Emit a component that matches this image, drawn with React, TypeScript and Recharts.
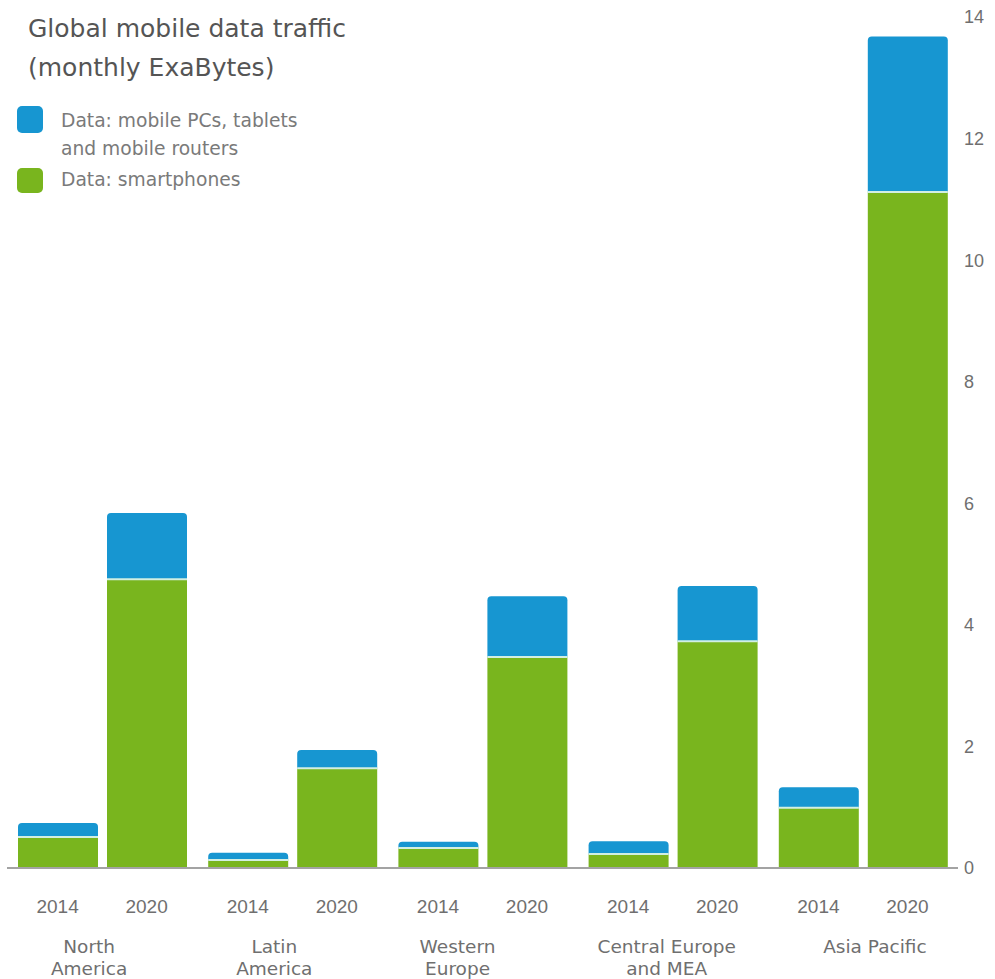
import React from "react";
import { BarChart, Bar, XAxis, YAxis } from "recharts";

// categories and values (monthly ExaBytes)
const regions = ["North\nAmerica", "Latin\nAmerica", "Western\nEurope", "Central Europe\nand MEA", "Asia Pacific"];
const years = ["2014", "2020"];
const smartphones2014 = [0.51, 0.13, 0.33, 0.23, 0.99];
const otherDevices2014 = [0.23, 0.12, 0.1, 0.21, 0.34];
const smartphones2020 = [4.75, 1.64, 3.47, 3.73, 11.12];
const otherDevices2020 = [1.09, 0.3, 1.0, 0.91, 2.56];
const yTicks = [0, 2, 4, 6, 8, 10, 12, 14];

const data = regions.map((region, i) => ({
  region,
  s14: smartphones2014[i],
  o14: otherDevices2014[i],
  s20: smartphones2020[i],
  o20: otherDevices2020[i],
}));

const GREEN = "#79b51e";
const BLUE = "#1796d1";
const TEXT = "#6f6f6f";
const BAR_SIZE = 80;
const BAR_GAP = 9;
// the region labels are not quite centred under their groups in the original
const labelNudge = [-13, -18, -25, -6, 12];

// upper segment: rounded top plus the thin light line that separates it from the green
const TopSegment = (props: any) => {
  const { x, y, width, height, fill } = props;
  if (!height || height <= 0) return null;
  const r = Math.min(4, height);
  const d = `M${x},${y + height} L${x},${y + r} Q${x},${y} ${x + r},${y} L${x + width - r},${y} Q${x + width},${y} ${x + width},${y + r} L${x + width},${y + height} Z`;
  return (
    <g>
      <path d={d} fill={fill} />
      <line x1={x} x2={x + width} y1={y + height} y2={y + height} stroke="#d2efe2" strokeWidth={2} />
    </g>
  );
};

const RegionTick = (props: any) => {
  const { x, y, payload, index } = props;
  const half = (BAR_SIZE + BAR_GAP) / 2;
  const lines = String(payload.value).split("\n");
  return (
    <g>
      {years.map((yr, k) => (
        <text
          key={yr}
          x={x + (k === 0 ? -half : half)}
          y={y + 45}
          textAnchor="middle"
          fill={TEXT}
          fontSize={19}
          fontFamily="'Liberation Sans', Arial, sans-serif"
        >
          {yr}
        </text>
      ))}
      {lines.map((ln, k) => (
        <text
          key={ln}
          x={x + labelNudge[index]}
          y={y + 85 + k * 22}
          textAnchor="middle"
          fill={TEXT}
          fontSize={18.5}
          fontFamily="'DejaVu Sans', sans-serif"
        >
          {ln}
        </text>
      ))}
    </g>
  );
};

const App: React.FC = () => {
  return (
    <div style={{ position: "absolute", left: 0, top: 0, width: 995, height: 979, background: "#fff" }}>
      <BarChart
        width={995}
        height={979}
        data={data}
        margin={{ top: 17, right: 0, left: 7, bottom: 0 }}
        barSize={BAR_SIZE}
        barGap={BAR_GAP}
      >
        <XAxis
          dataKey="region"
          interval={0}
          height={111}
          tickSize={0}
          tickMargin={0}
          tickLine={false}
          axisLine={{ stroke: "#a3a3a3", strokeWidth: 2 }}
          tick={<RegionTick />}
        />
        <YAxis
          orientation="right"
          width={37}
          domain={[0, 14]}
          ticks={yTicks}
          interval={0}
          tickSize={0}
          tickMargin={6}
          axisLine={false}
          tickLine={false}
          tick={{ fill: TEXT, fontSize: 18, fontFamily: "'Liberation Sans', Arial, sans-serif" }}
        />
        <Bar dataKey="s14" stackId="y2014" fill={GREEN} isAnimationActive={false} />
        <Bar dataKey="o14" stackId="y2014" fill={BLUE} shape={<TopSegment />} isAnimationActive={false} />
        <Bar dataKey="s20" stackId="y2020" fill={GREEN} isAnimationActive={false} />
        <Bar dataKey="o20" stackId="y2020" fill={BLUE} shape={<TopSegment />} isAnimationActive={false} />
      </BarChart>

      {/* title and legend */}
      <svg width={360} height={210} style={{ position: "absolute", left: 0, top: 0 }}>
        <text x={28} y={37} fontSize={25} fill="#555" fontFamily="'DejaVu Sans', sans-serif">
          Global mobile data traffic
        </text>
        <text x={28} y={76} fontSize={25} fill="#555" fontFamily="'DejaVu Sans', sans-serif">
          (monthly ExaBytes)
        </text>
        <rect x={17} y={106} width={26} height={27} rx={5} fill={BLUE} />
        <text x={61} y={127} fontSize={18.7} fill="#7a7a7a" fontFamily="'DejaVu Sans', sans-serif">
          Data: mobile PCs, tablets
        </text>
        <text x={61} y={155} fontSize={18.7} fill="#7a7a7a" fontFamily="'DejaVu Sans', sans-serif">
          and mobile routers
        </text>
        <rect x={17} y={168} width={26} height={25} rx={5} fill={GREEN} />
        <text x={61} y={186} fontSize={18.7} fill="#7a7a7a" fontFamily="'DejaVu Sans', sans-serif">
          Data: smartphones
        </text>
      </svg>
    </div>
  );
};

export default App;
